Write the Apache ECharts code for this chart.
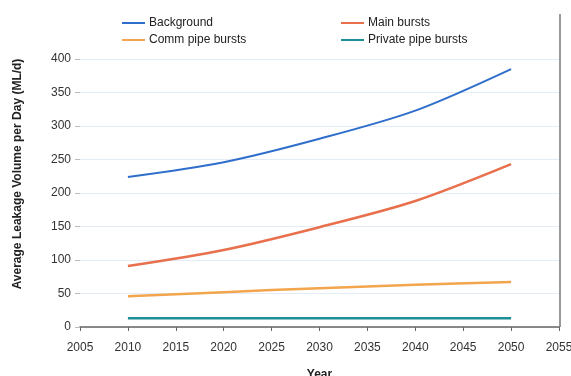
<!DOCTYPE html>
<html>
<head>
<meta charset="utf-8">
<script src="https://cdn.jsdelivr.net/npm/echarts@6/dist/echarts.min.js"></script>
<style>
  html, body { margin: 0; padding: 0; background: #fff; }
  #main { width: 571px; height: 376px; }
</style>
</head>
<body>
<div id="main"></div>
<script>
// years with a point on each series
const years = [2010, 2020, 2030, 2040, 2050];

// ML/d
const background = [224, 246, 281, 323, 385];
const mainBursts = [91, 115, 149, 188, 243];
const commPipe = [46, 52, 58, 63, 67];
const privatePipe = [13, 13, 13, 13, 13];

const font = 'Liberation Sans, Arial, sans-serif';

function pairs(vals) {
  return years.map((y, i) => [y, vals[i]]);
}

function legendAt(name, left, top) {
  return {
    data: [name],
    left: left, top: top,
    icon: 'rect',
    itemWidth: 23, itemHeight: 2,
    itemGap: 0,
    padding: 0,
    textStyle: { fontFamily: font, fontSize: 12, color: '#222', padding: [0, 0, 0, -1] }
  };
}

const myChart = echarts.init(document.getElementById('main'));
myChart.setOption({
  animation: false,
  textStyle: { fontFamily: font },
  grid: { left: 80, right: 12, top: 59, bottom: 49, containLabel: false, outerBoundsMode: 'none' },
  legend: [
    legendAt('Background', 122, 17),
    legendAt('Main bursts', 341, 17),
    legendAt('Comm pipe bursts', 122, 34),
    legendAt('Private pipe bursts', 341, 34)
  ],
  xAxis: {
    type: 'value', min: 2005, max: 2055, interval: 5,
    name: 'Year', nameLocation: 'middle', nameGap: 42,
    nameTextStyle: { fontWeight: 'bold', fontSize: 12, color: '#222' },
    axisLine: { show: true, lineStyle: { color: '#666', width: 1.5 } },
    axisTick: { show: true, length: 4, lineStyle: { color: '#666' } },
    axisLabel: { fontSize: 12, color: '#333', margin: 15, showMinLabel: true, showMaxLabel: true,
      formatter: v => String(v) },
    splitLine: { show: false }
  },
  yAxis: {
    type: 'value', min: 0, max: 400, interval: 50,
    axisLine: { show: false },
    axisTick: { show: true, length: 5, lineStyle: { color: '#bbb' } },
    axisLabel: { fontSize: 12, color: '#333', margin: 9 },
    splitLine: { show: true, lineStyle: { color: '#e4edf7', width: 1 } }
  },
  graphic: [
    {
      type: 'text', x: 18, y: 174, rotation: Math.PI / 2,
      style: {
        text: 'Average Leakage Volume per Day (ML/d)',
        fontFamily: font, fontSize: 12, fontWeight: 'bold', fill: '#222',
        align: 'center', verticalAlign: 'middle'
      }
    },
    {
      type: 'line',
      shape: { x1: 560, y1: 14, x2: 560, y2: 327 },
      style: { stroke: '#555', lineWidth: 1.2 }
    }
  ],
  series: [
    { name: 'Background', type: 'line', data: pairs(background), symbol: 'none',
      smooth: 0.3, lineStyle: { color: '#2f6fcb', width: 2 }, itemStyle: { color: '#2f6fcb' } },
    { name: 'Main bursts', type: 'line', data: pairs(mainBursts), symbol: 'none',
      smooth: 0.3, lineStyle: { color: '#e8704c', width: 2.5 }, itemStyle: { color: '#e8704c' } },
    { name: 'Comm pipe bursts', type: 'line', data: pairs(commPipe), symbol: 'none',
      smooth: 0.3, lineStyle: { color: '#f2a54c', width: 2.5 }, itemStyle: { color: '#f2a54c' } },
    { name: 'Private pipe bursts', type: 'line', data: pairs(privatePipe), symbol: 'none',
      lineStyle: { color: '#1b8e96', width: 2.5 }, itemStyle: { color: '#1b8e96' } }
  ]
});
</script>
</body>
</html>
